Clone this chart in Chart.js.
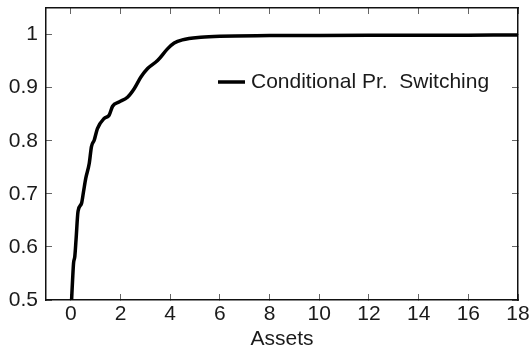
<!DOCTYPE html>
<html>
<head>
<meta charset="utf-8">
<script src="https://cdn.jsdelivr.net/npm/chart.js@4.4.1/dist/chart.umd.min.js"></script>
<style>
  html, body { margin: 0; padding: 0; background: #fff; }
  #wrap { width: 530px; height: 348px; }
</style>
</head>
<body>
<div id="wrap"><canvas id="switchChart" width="530" height="348"></canvas></div>
<script>
// wealth (assets) grid and the conditional probability of switching
const assets = [0.03, 0.07, 0.11, 0.16, 0.21, 0.29, 0.43, 0.51, 0.60, 0.74, 0.83, 0.94, 1.07, 1.34, 1.54, 1.68, 1.94, 2.28, 2.55, 2.82, 3.09, 3.49, 3.89, 4.16, 4.49, 5.23, 6.0, 8, 10, 12, 14, 16, 18];
const switchProb = [0.5, 0.538, 0.57, 0.582, 0.614, 0.667, 0.682, 0.704, 0.729, 0.757, 0.789, 0.801, 0.823, 0.842, 0.848, 0.865, 0.873, 0.882, 0.898, 0.920, 0.936, 0.951, 0.973, 0.984, 0.990, 0.995, 0.997, 0.998, 0.9984, 0.9987, 0.9988, 0.9989, 0.999];
const xTicks = [0, 2, 4, 6, 8, 10, 12, 14, 16, 18];
const yTicks = [0.5, 0.6, 0.7, 0.8, 0.9, 1.0];
const seriesLabel = 'Conditional Pr.  Switching';

const FONT = "'Liberation Sans', Arial, sans-serif";
const INK = '#1a1a1a';

// legend drawn inside the plot, line sample + label
const insideLegend = {
    id: 'insideLegend',
    afterDraw(chart) {
        const ctx = chart.ctx;
        const ds = chart.data.datasets[0];
        ctx.save();
        ctx.strokeStyle = ds.borderColor;
        ctx.lineWidth = ds.borderWidth;
        ctx.beginPath();
        ctx.moveTo(218, 82);
        ctx.lineTo(245, 82);
        ctx.stroke();
        ctx.fillStyle = INK;
        ctx.font = '21px ' + FONT;
        ctx.textBaseline = 'middle';
        ctx.textAlign = 'left';
        ctx.fillText(ds.label, 251, 82);
        ctx.restore();
    }
};

// fixed axis sizes, no extra room for overhanging labels
function fixSize(w, h) {
    return s => {
        if (w !== null) s.width = w;
        if (h !== null) s.height = h;
        s.paddingTop = s.paddingBottom = s.paddingLeft = s.paddingRight = 0;
    };
}

const grid = {
    drawOnChartArea: false,
    drawTicks: true,
    tickLength: -6,
    color: '#666',
    lineWidth: 1
};
const border = { display: true, color: '#111', width: 1.5 };

new Chart(document.getElementById('switchChart'), {
    type: 'line',
    data: {
        datasets: [{
            label: seriesLabel,
            data: assets.map((a, i) => ({ x: a, y: switchProb[i] })),
            borderColor: '#000',
            borderWidth: 3.5,
            pointRadius: 0,
            fill: false,
            cubicInterpolationMode: 'monotone'
        }]
    },
    options: {
        responsive: false,
        animation: false,
        layout: { padding: 0, autoPadding: false },
        plugins: {
            legend: { display: false },
            tooltip: { enabled: false }
        },
        scales: {
            x: {
                type: 'linear',
                position: 'bottom',
                min: -1,
                max: 18,
                afterBuildTicks: s => { s.ticks = xTicks.map(v => ({ value: v })); },
                afterFit: fixSize(null, 48),
                grid: grid,
                border: border,
                ticks: {
                    color: INK,
                    padding: 8,
                    maxRotation: 0,
                    font: { family: FONT, size: 21 }
                },
                title: {
                    display: true,
                    text: 'Assets',
                    color: INK,
                    padding: 0,
                    font: { family: FONT, size: 21, lineHeight: 0.85 }
                }
            },
            x2: {
                type: 'linear',
                position: 'top',
                min: -1,
                max: 18,
                afterBuildTicks: s => { s.ticks = xTicks.map(v => ({ value: v })); },
                afterFit: fixSize(null, 8),
                grid: grid,
                border: border,
                ticks: { display: false }
            },
            y: {
                type: 'linear',
                position: 'left',
                min: 0.5,
                max: 1.05,
                afterBuildTicks: s => { s.ticks = yTicks.map(v => ({ value: v })); },
                afterFit: fixSize(46, null),
                grid: grid,
                border: border,
                ticks: {
                    color: INK,
                    padding: 14,
                    font: { family: FONT, size: 21 },
                    callback: v => String(+v.toFixed(1))
                }
            },
            y2: {
                type: 'linear',
                position: 'right',
                min: 0.5,
                max: 1.05,
                afterBuildTicks: s => { s.ticks = yTicks.map(v => ({ value: v })); },
                afterFit: fixSize(12, null),
                grid: grid,
                border: border,
                ticks: { display: false }
            }
        }
    },
    plugins: [insideLegend]
});
</script>
</body>
</html>
